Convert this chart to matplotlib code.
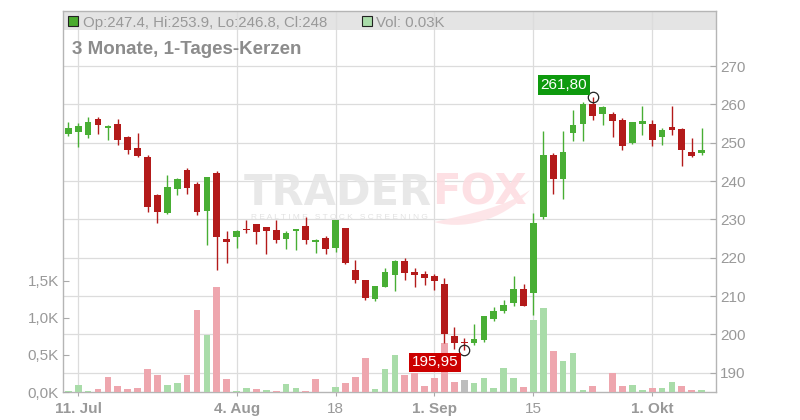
import numpy as np
import pandas as pd
import matplotlib
matplotlib.use('Agg')
import matplotlib.pyplot as plt
from matplotlib.patches import Rectangle, PathPatch
from matplotlib.path import Path

plt.rcParams['font.family'] = ['Liberation Sans', 'DejaVu Sans']

# daily candles, 10 Jul - 8 Oct 2025
opens = [252.3, 252.8, 252.1, 256.2, 253.9, 254.9, 251.5, 248.6, 246.3, 236.4,
         231.7, 238.0, 242.9, 239.2, 232.3, 242.1, 224.9, 225.5, 227.6, 228.8,
         228.0, 227.3, 225.0, 227.1, 228.3, 224.2, 225.1, 222.6, 227.8, 216.8,
         214.2, 209.3, 212.4, 215.6, 219.2, 216.3, 215.8, 215.2, 213.2, 199.6,
         198.1, 197.8, 198.5, 204.0, 206.1, 208.2, 211.9, 210.9, 230.7, 246.8,
         240.6, 252.6, 255.0, 260.1, 257.6, 257.5, 255.9, 250.0, 255.0, 254.9,
         251.6, 254.1, 253.6, 247.6, 247.4]
highs = [255.4, 255.1, 256.7, 256.7, 254.7, 256.2, 251.8, 252.5, 246.8, 236.6,
         241.6, 240.8, 243.4, 239.8, 241.1, 242.6, 227.0, 227.2, 229.8, 228.9,
         228.1, 229.8, 226.9, 227.6, 230.6, 224.9, 225.7, 229.8, 227.8, 219.4,
         214.2, 212.6, 217.3, 219.4, 219.9, 217.3, 216.5, 215.8, 214.6, 201.9,
         199.0, 202.7, 204.8, 207.1, 208.9, 215.2, 213.2, 231.7, 253.1, 247.3,
         253.1, 258.5, 260.6, 261.8, 259.6, 258.0, 256.4, 255.4, 259.7, 255.9,
         253.8, 259.7, 253.8, 251.2, 253.9]
lows = [251.8, 249.0, 251.3, 252.4, 250.8, 249.5, 247.1, 246.4, 232.0, 229.1,
        231.3, 236.4, 236.7, 231.2, 223.4, 216.9, 218.7, 222.6, 226.5, 223.7,
        221.1, 223.9, 222.4, 222.1, 223.7, 221.3, 221.1, 221.6, 218.4, 213.5,
        209.1, 208.8, 212.4, 211.4, 214.3, 212.4, 213.0, 211.7, 197.8, 196.3,
        195.95, 197.3, 198.1, 203.5, 205.5, 207.3, 207.5, 205.1, 230.1, 236.7,
        235.4, 250.5, 250.5, 256.0, 254.7, 251.6, 248.2, 249.7, 252.1, 249.2,
        249.5, 252.1, 244.0, 246.4, 246.8]
closes = [253.8, 254.4, 255.4, 254.7, 254.4, 250.8, 248.2, 246.6, 233.3, 232.0,
          238.5, 240.5, 238.3, 232.0, 241.1, 225.5, 224.2, 227.0, 227.3, 226.8,
          227.1, 224.7, 226.4, 227.6, 224.7, 224.6, 222.4, 229.8, 218.7, 214.3,
          209.6, 212.6, 216.3, 219.2, 216.1, 215.6, 214.8, 214.0, 200.0, 197.8,
          197.8, 198.8, 204.8, 206.1, 207.7, 211.9, 207.5, 229.0, 246.8, 240.6,
          247.6, 254.6, 260.1, 257.0, 259.3, 255.7, 249.2, 255.4, 255.7, 250.8,
          253.3, 253.4, 248.2, 246.6, 248.0]
volumes = [0.013, 0.094, 0.013, 0.04, 0.2, 0.08, 0.04, 0.054, 0.31, 0.23,
           0.094, 0.12, 0.23, 1.105, 0.77, 1.415, 0.175, 0.013, 0.054, 0.04,
           0.027, 0.013, 0.108, 0.054, 0.013, 0.175, 0.0, 0.067, 0.12, 0.2,
           0.46, 0.04, 0.31, 0.5, 0.23, 0.25, 0.08, 0.19, 0.66, 0.135,
           0.16, 0.12, 0.19, 0.054, 0.32, 0.19, 0.067, 0.97, 1.13, 0.55,
           0.42, 0.525, 0.027, 0.08, 0.0, 0.256, 0.08, 0.094, 0.027, 0.054,
           0.054, 0.135, 0.08, 0.027, 0.027]

tick_dates = ['2025-07-11', '2025-08-04', '2025-08-18', '2025-09-01', '2025-09-15', '2025-10-01']
tick_labels = ['11. Jul', '4. Aug', '18', '1. Sep', '15', '1. Okt']
tick_bold = [True, True, False, True, False, True]
price_ticks = [190, 200, 210, 220, 230, 240, 250, 260, 270]
vol_ticks = [0, 0.5, 1.0, 1.5]
vol_labels = ['0,0K', '0,5K', '1,0K', '1,5K']

GREEN = '#48ae34'
RED = '#b31a1a'
VGREEN = '#a9dca9'
VRED = '#eea6ae'
VGRAY = '#bdbdbd'
TXT = '#999999'

dates = pd.bdate_range('2025-07-10', '2025-10-08')
x = np.arange(len(dates))
o = np.array(opens); h = np.array(highs); l = np.array(lows); c = np.array(closes)
v = np.array(volumes)


def fx(px):
    return px / 800


def fy(py):
    return 1 - py / 420


fig = plt.figure(figsize=(8, 4.2), dpi=100)
rect = [63/800, 28/420, 653/800, 381/420]
ax = fig.add_axes(rect)

# header band
ax.add_patch(Rectangle((0, 1 - 19/381), 1, 19/381, transform=ax.transAxes,
                       facecolor='#e4e4e4', edgecolor='none', zorder=0.1))

ax.set_xlim(-0.54, 65.45)
ax.set_ylim(184.98, 284.35)
ax.set_axisbelow(True)
ax.grid(True, color='#dcdcdc', lw=0.9)

tick_pos = [dates.get_loc(pd.Timestamp(d)) for d in tick_dates]
ax.set_xticks(tick_pos)
ax.set_xticklabels(tick_labels)
for t, b in zip(ax.get_xticklabels(), tick_bold):
    t.set_fontweight('bold' if b else 'normal')
ax.tick_params(axis='x', direction='out', length=3, pad=4, labelsize=11,
               labelcolor=TXT, color='#aaaaaa')

# watermark
ax.text(0.565, 0.492, 'TRADER', transform=ax.transAxes, ha='right', va='baseline',
        fontsize=30, fontweight='bold', family='DejaVu Sans', color='#e6e6e6', alpha=0.9, zorder=1)
ax.text(0.565, 0.492, 'FOX', transform=ax.transAxes, ha='left', va='baseline',
        fontsize=30, fontweight='bold', family='DejaVu Sans', color='#fddde1', alpha=0.9, zorder=1)
ax.text(0.4227, 0.457, ' '.join('REALTIME STOCK SCREENING'), transform=ax.transAxes,
        ha='center', va='center', fontsize=6.0, color='#e2e2e2', zorder=1)
tail = Path([(fx(434), fy(222)), (fx(470), fy(232)), (fx(510), fy(215)), (fx(530), fy(190)),
             (fx(505), fy(207)), (fx(470), fy(214)), (fx(434), fy(222)), (fx(434), fy(222))],
            [Path.MOVETO, Path.CURVE4, Path.CURVE4, Path.CURVE4,
             Path.CURVE4, Path.CURVE4, Path.CURVE4, Path.CLOSEPOLY])
ax.add_patch(PathPatch(tail, transform=fig.transFigure, facecolor='#fde3e6',
                       edgecolor='none', alpha=0.9, zorder=1))

for s in ax.spines.values():
    s.set_color('#b5b5b5')
    s.set_linewidth(1.0)

# volume
ax_v = ax.twinx()
vcol = []
for i in range(len(c)):
    d = c[i] - (c[i-1] if i > 0 else o[0])
    vcol.append(VGREEN if d > 0 else (VRED if d < 0 else VGRAY))
ax_v.bar(x, v, width=0.68, color=vcol, zorder=2)
ax_v.set_ylim(0, 5.135)
ax_v.yaxis.tick_left()
ax_v.set_yticks(vol_ticks)
ax_v.set_yticklabels(vol_labels)
ax_v.tick_params(axis='y', direction='in', length=4, pad=3, labelsize=11,
                 labelcolor=TXT, color='#aaaaaa')
for s in ax_v.spines.values():
    s.set_visible(False)

ax.yaxis.tick_right()
ax.set_yticks(price_ticks)
ax.set_yticklabels([str(p) for p in price_ticks])
ax.tick_params(axis='y', direction='in', length=4, pad=3, labelsize=11,
               labelcolor=TXT, color='#aaaaaa')

# candles
ax_p = fig.add_axes(rect, sharex=ax, sharey=ax)
ax_p.set_axis_off()
ax_p.patch.set_visible(False)
ccol = [GREEN if c[i] >= o[i] else RED for i in range(len(c))]
ax_p.vlines(x, l, h, colors=ccol, lw=1.0)
body = np.maximum(np.abs(c - o), 0.3)
ax_p.bar(x, body, bottom=np.minimum(o, c), width=0.68, color=ccol)

i_hi = int(np.argmax(h))
i_lo = int(np.argmin(l))
ax_p.plot([i_hi, i_lo], [h[i_hi], l[i_lo]], 'o', mfc='none', mec='#222222', ms=7.5, mew=0.9)
ax_p.annotate(f'{h[i_hi]:.2f}'.replace('.', ','), xy=(i_hi, h[i_hi]), xytext=(-4, 4),
              textcoords='offset points', ha='right', va='bottom', color='white', fontsize=11,
              bbox=dict(boxstyle='square,pad=0.18', fc='#0e9a0e', ec='none'))
ax_p.annotate(f'{l[i_lo]:.2f}'.replace('.', ','), xy=(i_lo, l[i_lo]), xytext=(-4, -4),
              textcoords='offset points', ha='right', va='top', color='white', fontsize=11,
              bbox=dict(boxstyle='square,pad=0.18', fc='#cc0000', ec='none'))

# header texts
fig.add_artist(Rectangle((fx(68), fy(26)), 10/800, 10/420, transform=fig.transFigure,
                         facecolor='#4aab2e', edgecolor='#222222', lw=0.8))
fig.text(fx(83), fy(26.8), f'Op:{o[-1]:g}, Hi:{h[-1]:g}, Lo:{l[-1]:g}, Cl:{c[-1]:g}',
         fontsize=10.8, color=TXT, va='baseline')
fig.add_artist(Rectangle((fx(362), fy(26)), 10/800, 10/420, transform=fig.transFigure,
                         facecolor=VGREEN, edgecolor='#222222', lw=0.8))
fig.text(fx(376), fy(26.8), f'Vol: {v[-1]:.2f}K', fontsize=10.8, color=TXT, va='baseline')
fig.text(fx(72), fy(54.3), '3 Monate, 1-Tages-Kerzen', fontsize=13.5, fontweight='bold',
         color='#8c8c8c', va='baseline')

plt.savefig('out.png', dpi=100)
